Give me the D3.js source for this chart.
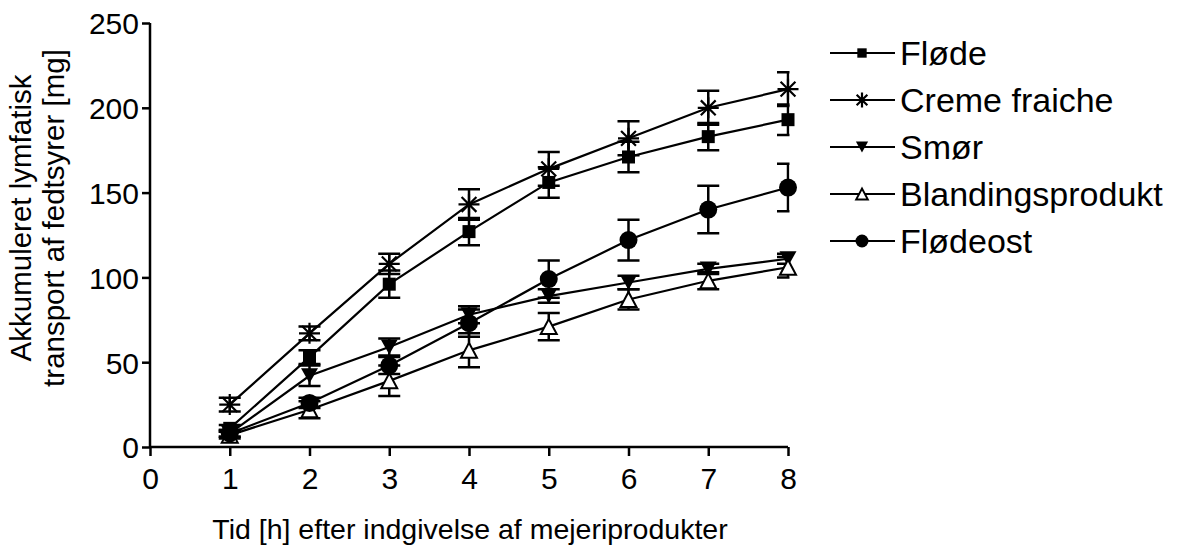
<!DOCTYPE html>
<html>
<head>
<meta charset="utf-8">
<script src="https://cdn.jsdelivr.net/npm/d3@7"></script>
<style>
  html, body { margin: 0; padding: 0; background: #fff; }
  svg { display: block; font-family: "Liberation Sans", Arial, sans-serif; }
</style>
</head>
<body>
<svg id="chart" width="1179" height="549"></svg>
<script>
// Time points (hours after intake)
const hours = [1, 2, 3, 4, 5, 6, 7, 8];

// Mean accumulated lymphatic fatty-acid transport [mg] and SEM per product
const floede       = [11, 53, 96, 127, 156, 171, 183, 193];
const floedeErr    = [2, 4, 8, 8, 9, 9, 8, 9];
const creme        = [25, 67, 108, 143, 164, 182, 200, 211];
const cremeErr     = [4, 4, 6, 9, 10, 10, 10, 10];
const smoer        = [8, 42, 59, 78, 89, 97, 105, 111];
const smoerErr     = [2, 6, 5, 5, 4, 4, 3, 3];
const blanding     = [7, 22, 39, 57, 71, 87, 98, 106];
const blandingErr  = [2, 5, 9, 10, 8, 6, 5, 6];
const floedeost    = [8, 26, 48, 73, 99, 122, 140, 153];
const floedeostErr = [2, 3, 5, 8, 11, 12, 14, 14];

const seriesNames = ["Fløde", "Creme fraiche", "Smør", "Blandingsprodukt", "Flødeost"];
const xTicks = [0, 1, 2, 3, 4, 5, 6, 7, 8];
const yTicks = [0, 50, 100, 150, 200, 250];

const series = [
  { name: seriesNames[0], values: floede,    errs: floedeErr,    symbol: "square" },
  { name: seriesNames[1], values: creme,     errs: cremeErr,     symbol: "asterisk" },
  { name: seriesNames[2], values: smoer,     errs: smoerErr,     symbol: "triDown" },
  { name: seriesNames[3], values: blanding,  errs: blandingErr,  symbol: "triUpOpen" },
  { name: seriesNames[4], values: floedeost, errs: floedeostErr, symbol: "circle" }
];

const svg = d3.select("#chart");
const x = d3.scaleLinear().domain([0, 8]).range([150, 788]);
const y = d3.scaleLinear().domain([0, 250]).range([447, 23]);

// Axes
const gx = svg.append("g").attr("transform", `translate(0,${y(0)})`)
  .call(d3.axisBottom(x).tickValues(xTicks).tickSize(9).tickPadding(10).tickFormat(d3.format("d")));
const gy = svg.append("g").attr("transform", `translate(${x(0)},0)`)
  .call(d3.axisLeft(y).tickValues(yTicks).tickSize(8).tickPadding(3).tickFormat(d3.format("d")));
[gx, gy].forEach(g => {
  g.select(".domain").attr("stroke", "#000").attr("stroke-width", 2.5);
  g.selectAll(".tick line").attr("stroke", "#000").attr("stroke-width", 2.5);
  g.selectAll(".tick text").attr("fill", "#000").attr("font-size", 30)
    .attr("font-family", "Liberation Sans, Arial, sans-serif");
});
gy.select(".domain").attr("d", `M0,${y(250)}V${y(0)}`);
gx.select(".domain").attr("d", `M${x(0)},0H${x(8)}`);
gx.selectAll(".tick text").attr("dy", "0.75em");
gy.selectAll(".tick text").attr("dy", "0.36em");

// Axis titles
svg.append("text")
  .attr("x", 470).attr("y", 539)
  .attr("text-anchor", "middle").attr("font-size", 28.5)
  .text("Tid [h] efter indgivelse af mejeriprodukter");

const yTitle = svg.append("text")
  .attr("transform", "translate(0,218) rotate(-90)")
  .attr("text-anchor", "middle").attr("font-size", 29.5);
yTitle.append("tspan").attr("x", 0).attr("y", 31).text("Akkumuleret lymfatisk");
yTitle.append("tspan").attr("x", 0).attr("y", 64).text("transport af fedtsyrer [mg]");

// Clip error bars at the right end of the x axis
svg.append("clipPath").attr("id", "errClip")
  .append("rect").attr("x", 0).attr("y", 0).attr("width", x(8) + 1.5).attr("height", 549);

// Marker drawing
function drawMarker(g, type, cx, cy, s) {
  s = s || 1;
  if (type === "square") {
    const h = 6.5 * s;
    g.append("rect").attr("x", cx - h).attr("y", cy - h).attr("width", 2 * h).attr("height", 2 * h).attr("fill", "#000");
  } else if (type === "circle") {
    g.append("circle").attr("cx", cx).attr("cy", cy).attr("r", 9 * s).attr("fill", "#000");
  } else if (type === "triDown") {
    const w = 8.5 * s, h = 7.5 * s;
    g.append("path").attr("d", `M${cx - w},${cy - h}L${cx + w},${cy - h}L${cx},${cy + h}Z`).attr("fill", "#000");
  } else if (type === "triUpOpen") {
    const w = 8 * s, h = 7.5 * s;
    g.append("path").attr("d", `M${cx - w},${cy + h}L${cx + w},${cy + h}L${cx},${cy - h}Z`)
      .attr("fill", "#fff").attr("stroke", "#000").attr("stroke-width", 2);
  } else if (type === "asterisk") {
    const r = 10.5 * s, d = r * Math.SQRT1_2;
    g.append("path")
      .attr("d", `M${cx - r},${cy}H${cx + r}M${cx},${cy - r}V${cy + r}M${cx - d},${cy - d}L${cx + d},${cy + d}M${cx - d},${cy + d}L${cx + d},${cy - d}`)
      .attr("stroke", "#000").attr("stroke-width", 2.2).attr("fill", "none");
  }
}

const line = d3.line().x((d, i) => x(hours[i])).y(d => y(d));
const plot = svg.append("g");

// Connecting lines
series.forEach(s => {
  plot.append("path").attr("d", line(s.values))
    .attr("fill", "none").attr("stroke", "#000").attr("stroke-width", 2.2);
});

// Error bars
const errG = plot.append("g").attr("clip-path", "url(#errClip)");
series.forEach(s => {
  s.values.forEach((v, i) => {
    const cx = x(hours[i]), top = y(v + s.errs[i]), bot = y(v - s.errs[i]), cw = 11;
    errG.append("path")
      .attr("d", `M${cx},${top}V${bot}M${cx - cw},${top}H${cx + cw}M${cx - cw},${bot}H${cx + cw}`)
      .attr("stroke", "#000").attr("stroke-width", 2.5).attr("fill", "none");
  });
});

// Markers
series.forEach(s => {
  const g = plot.append("g");
  s.values.forEach((v, i) => drawMarker(g, s.symbol, x(hours[i]), y(v)));
});

// Legend
const legendY0 = 53, legendStep = 47;
series.forEach((s, i) => {
  const ly = legendY0 + i * legendStep;
  const g = svg.append("g");
  g.append("line").attr("x1", 830).attr("x2", 895).attr("y1", ly).attr("y2", ly)
    .attr("stroke", "#000").attr("stroke-width", 2);
  drawMarker(g, s.symbol, 862, ly, 0.72);
  g.append("text").attr("x", 900).attr("y", ly).attr("dy", "0.36em")
    .attr("font-size", 34).text(s.name);
});
</script>
</body>
</html>
